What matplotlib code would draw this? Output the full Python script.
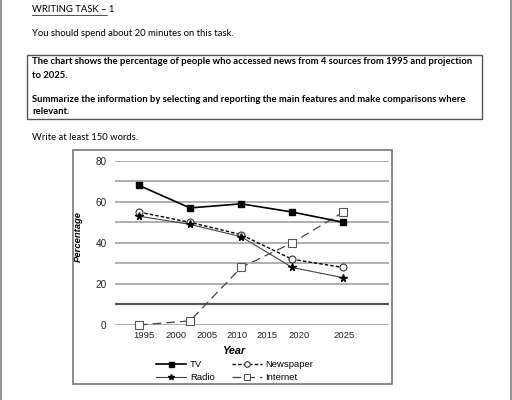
import matplotlib.pyplot as plt
from matplotlib.patches import Rectangle
from matplotlib.lines import Line2D

# data (points are evenly spaced along x)
point_years = [1995, 2002.5, 2010, 2017.5, 2025]
tv = [68, 57, 59, 55, 50]
newspaper = [55, 50, 44, 32, 28]
radio = [53, 49, 43, 28, 23]
internet = [0, 2, 28, 40, 55]

tick_labels = ['1995', '2000', '2005', '2010', '2015', '2020', '2025']
tick_pos = [1995.7, 2000.4, 2005.0, 2009.4, 2013.8, 2018.5, 2025.1]
y_ticks = [0, 20, 40, 60, 80]

page_font = 'Lato'
chart_font = 'Liberation Sans'

W, H = 512, 400
fig = plt.figure(figsize=(W / 100, H / 100), dpi=100)

def fx(px):
    return px / W

def fy(py):
    return 1 - py / H

# page frame (left / right edges)
for xx in (0.6, 510.5):
    fig.add_artist(Line2D([fx(xx), fx(xx)], [0, 1], color='#808080', lw=1.2))

# header text
fig.text(fx(32), fy(10), 'WRITING TASK \u2013 1', fontsize=6.8, family=page_font,
         va='center', ha='left')
fig.add_artist(Line2D([fx(32), fx(107)], [fy(15), fy(15)], color='#333333', lw=0.6))
fig.text(fx(32), fy(34), 'You should spend about 20 minutes on this task.',
         fontsize=6.8, family=page_font, va='center', ha='left')

fig.add_artist(Rectangle((fx(26.7), fy(119)), fx(481.7) - fx(26.7), fy(55) - fy(119),
                         transform=fig.transFigure, fill=False, ec='#555555', lw=1.0))
box_lines = [
    (62, 'The chart shows the percentage of people who accessed news from 4 sources from 1995 and projection'),
    (75, 'to 2025.'),
    (100, 'Summarize the information by selecting and reporting the main features and make comparisons where'),
    (112, 'relevant.'),
]
for yy, s in box_lines:
    fig.text(fx(32), fy(yy), s, fontsize=6.8, family=page_font, weight='bold',
             va='center', ha='left')
fig.text(fx(32), fy(138), 'Write at least 150 words.', fontsize=6.8, family=page_font,
         va='center', ha='left')

# chart frame
fig.add_artist(Rectangle((fx(73), fy(384)), fx(392) - fx(73), fy(150) - fy(384),
                         transform=fig.transFigure, fill=False, ec='#777777', lw=1.2))

ax = fig.add_axes([fx(115), fy(325), fx(389) - fx(115), fy(160.7) - fy(325)])
ax.set_xlim(1991.5, 2031.7)
ax.set_ylim(0, 80)
for s in ax.spines.values():
    s.set_visible(False)
for g in range(0, 81, 10):
    if g == 10:
        ax.axhline(g, color='#555555', lw=1.6, zorder=1)
    else:
        ax.axhline(g, color='#a8a8a8', lw=1.3, zorder=1)

ax.plot(point_years, tv, color='black', lw=1.2, marker='s', ms=4.5,
        mfc='black', mec='black', label='TV', zorder=4, clip_on=False)
ax.plot(point_years, radio, color='#444444', lw=0.8, marker='*', ms=5.5,
        mfc='black', mec='black', label='Radio', zorder=4, clip_on=False)
ax.plot(point_years, newspaper, color='black', lw=1.0, ls=(0, (2.5, 1.5)), marker='o',
        ms=5, mfc='white', mec='#333333', mew=0.8, label='Newspaper', zorder=3,
        clip_on=False)
ax.plot(point_years, internet, color='#444444', lw=0.9, ls=(0, (7, 4)), marker='s',
        ms=6, mfc='white', mec='#555555', mew=0.8, label='Internet', zorder=3,
        clip_on=False)

ax.set_xticks(tick_pos)
ax.set_xticklabels(tick_labels, family=chart_font, fontsize=6.8)
ax.set_yticks(y_ticks)
ax.set_yticklabels([str(v) for v in y_ticks], family=chart_font, fontsize=7.2)
ax.tick_params(length=0, pad=4, colors='#222222')
ax.tick_params(axis='y', pad=6)
ax.set_xlabel('Year', family=chart_font, fontsize=7.8, style='italic', weight='bold',
              labelpad=2)
ax.xaxis.set_label_coords((234 - 115) / (389 - 115), -0.125)
ax.set_ylabel('Percentage', family=chart_font, fontsize=6.8, style='italic', weight='bold')
ax.yaxis.set_label_coords((83 - 115) / (389 - 115), 0.54)

leg = ax.legend(ncol=2, loc='upper left', bbox_to_anchor=((152 - 115) / (389 - 115), -0.19),
                frameon=False, prop={'family': chart_font, 'size': 6.8},
                handlelength=3.2, handletextpad=0.4, columnspacing=1.8,
                labelspacing=0.45, borderaxespad=0, markerscale=0.8)

fig.savefig('out.png', dpi=100)
